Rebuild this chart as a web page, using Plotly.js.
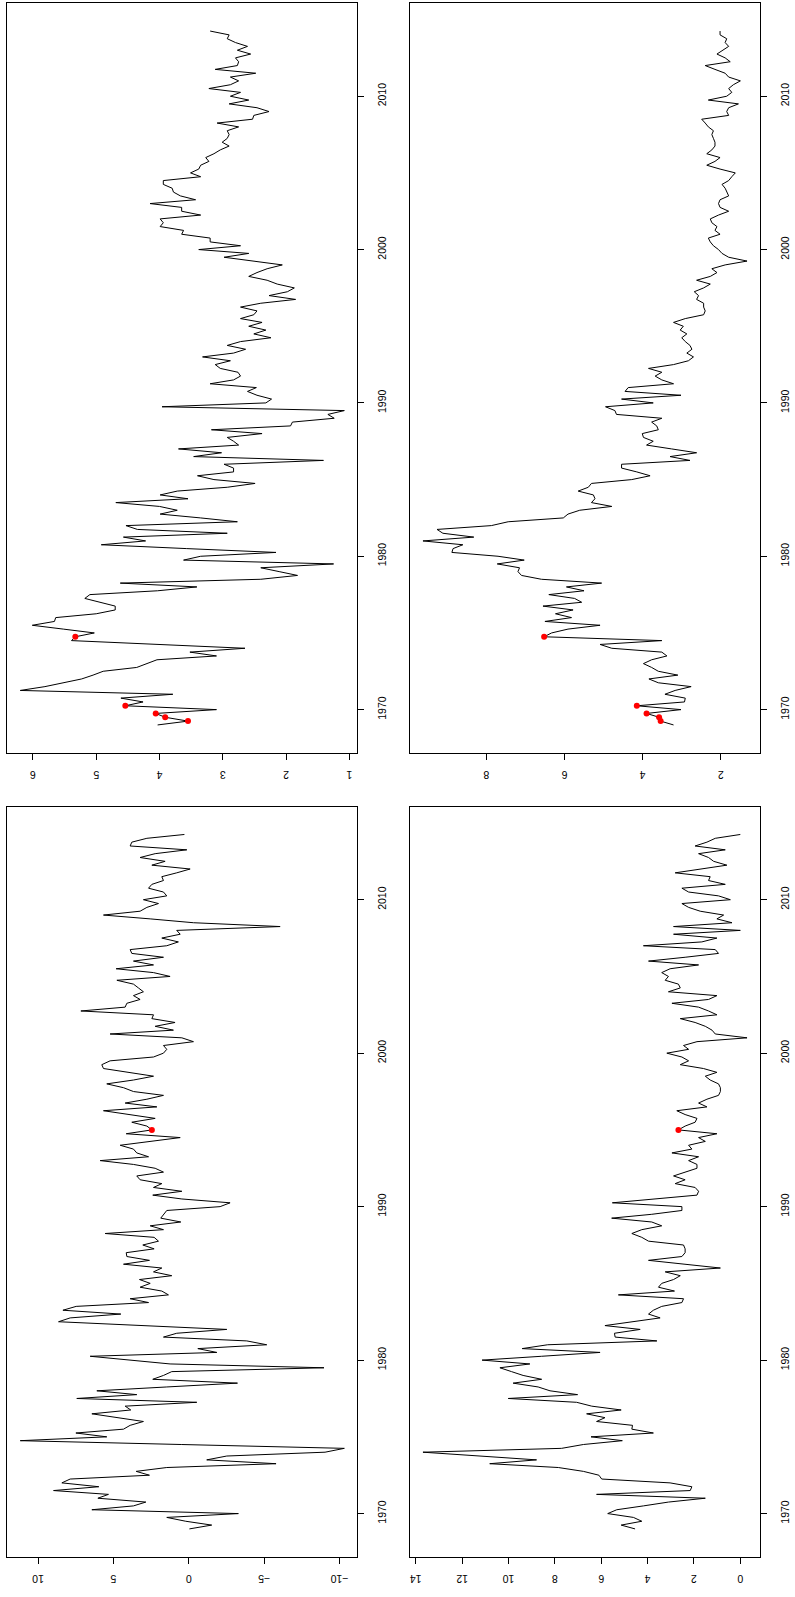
<!DOCTYPE html>
<html>
<head>
<meta charset="utf-8">
<script src="https://cdn.plot.ly/plotly-3.0.1.min.js"></script>
<style>
html,body{margin:0;padding:0;background:#fff;}
#chart{width:795px;height:1597px;}
</style>
</head>
<body>
<div id="chart"></div>
<script>
// Quarterly series, first observation 1969 Q1
const startYear = 1969;
const periodsPerYear = 4;

// Top-left panel series
const seriesTL = [
  4.03, 3.55, 3.91, 4.06, 3.10, 4.54, 4.26, 4.61, 3.79, 6.20,
  5.81, 5.50, 5.23, 5.05, 4.89, 4.36, 4.20, 4.04, 3.10, 3.52,
  2.65, 3.99, 5.39, 5.33, 5.03, 5.52, 6.01, 5.66, 5.64, 5.00,
  4.70, 4.70, 4.94, 5.18, 5.10, 4.03, 3.41, 4.62, 2.40, 1.82,
  2.11, 2.40, 1.25, 3.62, 3.35, 2.16, 3.57, 4.92, 4.22, 4.57,
  2.93, 4.35, 4.53, 2.77, 3.35, 3.99, 3.72, 4.00, 4.69, 3.55,
  3.99, 3.72, 2.93, 2.49, 3.14, 3.40, 2.83, 2.83, 2.98, 1.41,
  3.46, 3.02, 3.70, 2.75, 2.83, 2.93, 2.38, 3.18, 1.93, 1.90,
  1.24, 1.34, 1.08, 3.96, 2.32, 2.23, 2.46, 2.61, 2.47, 3.20,
  2.83, 2.72, 2.76, 3.04, 3.12, 2.88, 3.32, 2.83, 2.64, 2.93,
  2.72, 2.24, 2.51, 2.32, 2.59, 2.38, 2.72, 2.51, 2.46, 2.72,
  2.40, 1.85, 2.27, 1.98, 1.87, 2.14, 2.30, 2.59, 2.46, 2.30,
  2.06, 2.51, 2.98, 2.59, 3.38, 2.72, 3.20, 3.20, 3.65, 3.62,
  3.99, 3.94, 3.99, 3.35, 3.65, 3.65, 4.15, 3.43, 3.67, 3.78,
  3.80, 3.94, 3.94, 3.35, 3.51, 3.38, 3.35, 3.22, 3.27, 3.14,
  3.04, 2.90, 3.01, 2.93, 2.90, 2.93, 2.75, 3.09, 2.53, 2.51,
  2.27, 2.46, 2.90, 2.59, 2.88, 2.72, 3.22, 2.88, 2.75, 2.88,
  2.48, 3.12, 2.77, 2.75, 2.80, 2.56, 2.77, 2.61, 2.80, 2.93,
  2.90, 3.20
];

// Top-right panel series
const seriesTR = [
  3.21, 3.54, 3.58, 3.90, 3.02, 4.15, 2.93, 2.91, 3.43, 3.17,
  2.76, 3.60, 3.84, 3.10, 3.60, 3.77, 3.98, 3.77, 3.38, 3.51,
  4.79, 5.09, 3.51, 6.52, 6.33, 5.91, 5.09, 6.50, 5.82, 6.23,
  5.78, 6.55, 5.56, 5.74, 6.40, 5.50, 5.95, 5.05, 6.59, 7.10,
  7.19, 7.15, 7.72, 7.03, 7.70, 8.88, 8.85, 8.60, 9.62, 8.32,
  9.11, 9.26, 7.87, 7.44, 6.03, 5.91, 5.61, 4.79, 5.31, 5.22,
  5.26, 5.65, 5.39, 5.31, 4.28, 3.81, 4.15, 4.54, 4.54, 2.79,
  3.30, 2.62, 3.26, 3.90, 3.73, 3.98, 4.01, 3.60, 3.64, 3.77,
  3.51, 4.67, 4.71, 4.95, 3.73, 4.54, 3.02, 4.45, 4.37, 3.21,
  3.51, 3.68, 3.51, 3.85, 3.21, 2.83, 2.70, 2.87, 2.74, 2.79,
  2.91, 3.00, 2.87, 3.04, 2.96, 3.21, 2.91, 2.44, 2.40, 2.44,
  2.44, 2.62, 2.57, 2.68, 2.44, 2.27, 2.62, 2.27, 2.10, 2.23,
  1.89, 1.33, 1.80, 1.97, 2.06, 2.19, 2.27, 2.32, 2.02, 2.15,
  2.10, 2.23, 2.27, 2.06, 1.80, 2.02, 2.06, 2.02, 1.80, 1.85,
  1.89, 1.97, 1.80, 1.72, 1.63, 2.02, 2.36, 2.15, 2.02, 2.36,
  2.23, 2.15, 2.15, 2.19, 2.23, 2.19, 2.32, 2.40, 2.49, 1.80,
  1.85, 1.80, 1.55, 2.32, 1.85, 1.72, 1.80, 1.68, 1.50, 1.80,
  1.89, 2.15, 2.40, 1.76, 1.89, 2.10, 1.94, 1.80, 1.89, 1.85,
  2.02, 2.02
];

// Bottom-left panel series
const seriesBL = [
  -0.04, -1.52, 0.20, 1.46, -3.29, 6.43, 3.67, 2.85, 6.03, 5.33,
  8.97, 5.97, 8.42, 7.87, 2.61, 3.49, 1.46, -5.79, -1.19, -2.52,
  -9.04, -10.32, 0.50, 11.18, 5.44, 7.49, 4.33, 3.89, 3.01, 4.77,
  6.43, 3.85, 4.22, -0.53, 7.43, 3.45, 6.10, 1.46, -3.23, 2.39,
  1.68, 1.13, -8.97, 1.24, 4.11, 6.54, -1.86, -0.60, -5.17, -3.85,
  1.68, 0.80, -2.52, 3.00, 8.64, 7.87, 4.51, 8.35, 7.47, 2.67,
  3.89, 1.35, 1.79, 3.23, 2.56, 3.27, 1.13, 2.34, 1.79, 4.33,
  2.61, 4.11, 4.15, 2.30, 3.05, 2.01, 2.30, 5.55, 1.68, 2.56,
  0.53, 1.86, 1.68, 1.46, -2.08, -2.74, 0.46, 2.39, 0.46, 2.34,
  1.79, 3.23, 3.45, 1.68, 2.23, 3.67, 5.88, 2.67, 3.45, 3.67,
  4.55, 2.56, 0.57, 4.15, 2.45, 2.78, 3.78, 2.23, 4.11, 5.66,
  2.12, 4.22, 2.78, 1.68, 3.67, 4.33, 5.44, 3.67, 2.34, 4.11,
  5.66, 5.77, 5.22, 2.34, 1.68, 1.46, 1.68, -0.31, 0.46, 5.22,
  1.02, 2.23, 0.91, 2.45, 2.34, 7.16, 4.22, 4.11, 3.23, 3.67,
  3.01, 3.34, 3.67, 4.77, 1.24, 2.34, 4.82, 2.34, 3.67, 1.68,
  3.78, 3.89, 1.46, 0.69, 1.79, 0.57, 0.80, -6.06, -0.31, 2.56,
  5.66, 3.23, 2.78, 2.01, 3.01, 1.46, 1.68, 2.67, 2.45, 1.68,
  1.79, 0.80, -0.09, 2.45, 1.57, 3.23, 2.23, 0.13, 3.89, 3.78,
  2.78, 0.29
];

// Bottom-right panel series
const seriesBR = [
  4.54, 5.14, 4.25, 4.61, 5.72, 5.33, 4.18, 3.10, 1.51, 6.20,
  2.16, 2.09, 3.03, 5.98, 6.10, 6.77, 7.85, 10.81, 8.79, 11.24,
  13.69, 7.71, 6.77, 5.09, 6.44, 3.75, 4.68, 4.65, 6.20, 5.84,
  6.63, 5.14, 6.41, 7.06, 10.01, 7.02, 8.21, 8.72, 9.80, 8.57,
  9.37, 9.87, 10.37, 9.08, 11.14, 8.57, 6.05, 9.41, 8.31, 3.60,
  5.40, 5.43, 4.32, 5.84, 4.54, 3.46, 3.96, 3.75, 3.39, 2.52,
  2.45, 5.26, 2.84, 3.53, 3.39, 2.88, 2.59, 3.24, 0.86, 2.38,
  3.96, 2.52, 2.38, 2.38, 2.45, 3.96, 4.25, 4.68, 4.25, 3.39,
  3.82, 5.55, 3.82, 2.52, 2.52, 5.52, 3.67, 1.87, 1.80, 1.95,
  2.81, 2.38, 2.88, 2.38, 1.87, 1.87, 2.23, 1.80, 2.95, 2.09,
  2.23, 1.51, 1.80, 1.01, 2.67, 2.38, 1.95, 1.87, 2.38, 2.74,
  1.44, 1.80, 1.44, 0.94, 0.86, 0.86, 0.94, 1.30, 1.51, 1.01,
  1.59, 2.59, 2.23, 2.52, 3.17, 2.23, 2.45, 1.87, -0.29, 1.08,
  1.22, 1.51, 1.95, 2.59, 1.01, 1.37, 1.80, 2.95, 1.37, 1.01,
  3.10, 2.59, 2.67, 3.24, 3.10, 3.39, 3.03, 1.80, 3.96, 2.38,
  0.94, 1.08, 4.18, 1.66, 1.01, 2.88, 0.00, 2.88, 0.36, 1.01,
  0.72, 1.73, 2.23, 2.52, 0.43, 0.94, 2.23, 2.52, 0.65, 1.37,
  1.30, 2.81, 1.66, 0.58, 1.15, 1.37, 1.80, 0.65, 1.95, 1.44,
  1.08, 0.00
];

// Highlighted observations (indices into the series)
const redIdxTop = [1, 2, 3, 5, 23];
const redIdxBottom = [104];

// Tick labels
const yearTicks = [1970, 1980, 1990, 2000, 2010];
const ticksTL = [1, 2, 3, 4, 5, 6];
const ticksTR = [2, 4, 6, 8];
const ticksBL = [-10, -5, 0, 5, 10];
const ticksBR = [0, 2, 4, 6, 8, 10, 12, 14];

// ---------------------------------------------------------------
const W = 795, H = 1597;
const times = seriesTL.map((_, i) => startYear + i / periodsPerYear);

function rRange(arr) {           // R-style 4% padding
  const mn = Math.min(...arr), mx = Math.max(...arr);
  const p = 0.04 * (mx - mn);
  return [mn - p, mx + p];
}
const tRange = rRange(times);

const panels = [
  {s: seriesTL, ticks: ticksTL, red: redIdxTop,    box: [7.3, 357.3, 3.3, 752.7]},
  {s: seriesTR, ticks: ticksTR, red: redIdxTop,    box: [410, 760, 3.3, 752.7]},
  {s: seriesBL, ticks: ticksBL, red: redIdxBottom, box: [7.3, 357.3, 806.7, 1556.7]},
  {s: seriesBR, ticks: ticksBR, red: redIdxBottom, box: [410, 760, 806.7, 1556.7]}
];

const font = {family: 'Liberation Sans, Arial, Helvetica, sans-serif', size: 10.5, color: '#000'};
const traces = [];
const layout = {
  width: W, height: H, autosize: false,
  margin: {l: 0, r: 0, t: 0, b: 0, pad: 0},
  paper_bgcolor: '#fff', plot_bgcolor: '#fff',
  showlegend: false, font: font
};

panels.forEach((p, i) => {
  const n = i === 0 ? '' : String(i + 1);
  const xa = 'x' + n, ya = 'y' + n;
  traces.push({
    type: 'scatter', mode: 'lines', x: p.s, y: times,
    xaxis: xa, yaxis: ya,
    line: {color: '#000', width: 1}, hoverinfo: 'skip'
  });
  traces.push({
    type: 'scatter', mode: 'markers',
    x: p.red.map(k => p.s[k]), y: p.red.map(k => times[k]),
    xaxis: xa, yaxis: ya,
    marker: {color: '#ff0000', size: 6}, hoverinfo: 'skip'
  });
  const vr = rRange(p.s);
  const [x0, x1, y0, y1] = p.box;
  layout['xaxis' + n] = {
    domain: [x0 / W, x1 / W], anchor: ya, side: 'bottom',
    range: [vr[1], vr[0]],
    tickmode: 'array', tickvals: p.ticks, ticktext: p.ticks.map(v => v < 0 ? '\u2212' + Math.abs(v) : String(v)),
    tickangle: 180, ticklabelstandoff: 9,
    ticks: 'outside', ticklen: 6, tickwidth: 1, tickcolor: '#000',
    showline: true, linecolor: '#000', linewidth: 1, mirror: true,
    showgrid: false, zeroline: false, tickfont: font, fixedrange: true
  };
  layout['yaxis' + n] = {
    domain: [1 - y1 / H, 1 - y0 / H], anchor: xa, side: 'right',
    range: tRange,
    tickmode: 'array', tickvals: yearTicks, ticktext: yearTicks.map(String),
    tickangle: -90, ticklabelstandoff: 9,
    ticks: 'outside', ticklen: 6, tickwidth: 1, tickcolor: '#000',
    showline: true, linecolor: '#000', linewidth: 1, mirror: true,
    showgrid: false, zeroline: false, tickfont: font, fixedrange: true
  };
});

Plotly.newPlot('chart', traces, layout, {displayModeBar: false, staticPlot: true});
</script>
</body>
</html>
